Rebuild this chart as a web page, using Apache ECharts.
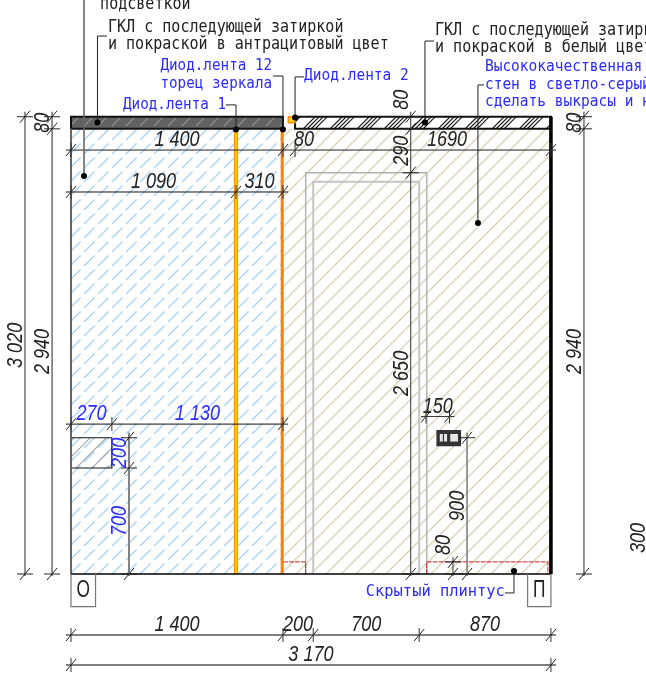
<!DOCTYPE html>
<html><head><meta charset="utf-8">
<style>html,body{margin:0;padding:0;background:#fff;overflow:hidden}#c{width:646px;height:675px}</style>
<script src="https://cdn.jsdelivr.net/npm/echarts@6/dist/echarts.min.js"></script>
</head><body><div id="c"></div>
<script>
// All drawing values in millimetres of the wall elevation
const zoneMirror=[0,1400,0,2940];
const zoneWall=[1400,3170,0,2940];
const bandDark=[0,1400,2940,3020];
const bandWhite=[1480,3170,2940,3020];
const niche=[0,270,700,900];
const socketBody=[2420,2570,850,945];
const socketCells=[[2436,2456],[2464,2484],[2505,2556]];
const socketCellY=[875,925];
const ledCorner=[1435,1480,2980,3020];
const stripOne=1090, stripTwo=1395;
const doorOuter=[[1550,0],[1550,2650],[2350,2650],[2350,0]];
const doorInner=[[1600,0],[1600,2590],[2300,2590],[2300,0]];
const plinthLeft=[[1400,80],[1550,80],[1550,0]];
const plinthRight=[[2350,0],[2350,80],[3150,80],[3150,0]];
const wallLeft=[[0,0],[0,2940]];
const wallRight=[[3170,0],[3170,3020]];
const floorLine=[[0,0],[3170,0]];
const boxO=[[0,0],[0,-216],[162,-216],[162,0]];
const boxP=[[3016,0],[3016,-216],[3170,-216],[3170,0]];

const dimTopY=2800, dimTopStops=[0,1400,1480,3170], dimTopLabels=['1 400','80','1690'], dimTopShift=[0,15,24];
const dimMidY=2523, dimMidStops=[0,1090,1400], dimMidLabels=['1 090','310'];
const dimNicheY=990, dimNicheStops=[0,270,1400], dimNicheLabels=['270','1 130'];
const dimSockY=1040, dimSockStops=[2345,2500], dimSockLabels=['150'];
const dimBotY=-403, dimBotStops=[0,1400,1600,2300,3170], dimBotLabels=['1 400','200','700','870'];
const dimAllY=-601, dimAllStops=[0,3170], dimAllLabels=['3 170'];

const colA=-304, colAStops=[0,3020], colALabels=['3 020'];
const colB=-125, colBStops=[0,2940,3020], colBLabels=['2 940','80'];
const colC=3388, colCStops=[0,2940,3020], colCLabels=['2 940','80'];
const colDoor=2244, colDoorStops=[0,2650,2940,3020], colDoorLabels=['2 650','290','80'], colDoorShift=[0,0,-23];
const colNiche=383, colNicheStops=[0,700,900], colNicheLabels=['700','200'];
const colSock=2616, colSockStops=[0,900], colSockLabels=['900'];
const colPl=2523, colPlStops=[0,80], colPlLabels=['80'], colPlShift=[-23];

const leaders=[
 [[86,2628],[86,3900]],
 [[175,2982],[175,3553],[238,3553]],
 [[1400,2936],[1400,3289],[1334,3289]],
 [[1090,2936],[1090,3098],[1024,3098]],
 [[1480,3015],[1480,3283],[1539,3283]],
 [[2338,2982],[2338,3520],[2398,3520]],
 [[2688,2318],[2688,3230],[2728,3230]],
 [[2926,20],[2926,-125],[2866,-125]]
];
const notesBlack=[['подсветкой',192,3758],['ГКЛ с последующей затиркой',244,3606],['и покраской в антрацитовый цвет',244,3494],['ГКЛ с последующей затиркой',2404,3586],['и покраской в белый цвет',2404,3474]];
const notesBlueLeft=[['Диод.лента 2',1539,3289],['Высококачественная',2734,3349],['стен в светло-серый цвет',2734,3230],['сделать выкрасы и ниши',2734,3118]];
const notesBlueRight=[['Диод.лента 12',1328,3355],['торец зеркала',1328,3236],['Диод.лента 1',1024,3098]];
const noteHidden=['Скрытый плинтус',2866,-119];
const cutDim=['300',3755,238];
const letterO=['О',81,-105], letterP=['П',3093,-105];

// ---------- hatch tiles (styling only)
function tile(w,h,draw){const c=document.createElement('canvas');c.width=w;c.height=h;const x=c.getContext('2d');draw(x);return {image:c,repeat:'repeat'};}
function solid(period,color,lw,base){return tile(period,period,x=>{if(base){x.fillStyle=base;x.fillRect(0,0,period,period);}x.strokeStyle=color;x.lineWidth=lw;
  [[-period,period,0,0],[0,period,period,0],[period,period,2*period,0]].forEach(l=>{x.beginPath();x.moveTo(l[0],l[1]);x.lineTo(l[2],l[3]);x.stroke();});});}
function dashed(period,color,lw,dash,gap,base){const p=period*2;return tile(p,p,x=>{if(base){x.fillStyle=base;x.fillRect(0,0,p,p);}x.strokeStyle=color;x.lineWidth=lw;x.setLineDash([dash,gap]);
  [[0,p,p,0],[-period,p,period,0],[period,p,period+p,0]].forEach(l=>{x.beginPath();x.moveTo(l[0],l[1]);x.lineTo(l[2],l[3]);x.stroke();});});}
function groups(period,color,lw,offs){return tile(period,period,x=>{x.strokeStyle=color;x.lineWidth=lw;
  offs.forEach(o=>{[-period,0,period].forEach(s=>{x.beginPath();x.moveTo(s+o,period);x.lineTo(s+o+period,0);x.stroke();});});});}
const hatchBlue=dashed(14,'#acd4f6',1.4,15,4.8);
const hatchBeige=solid(15,'#dcd4b8',1.4);
const hatchDark=dashed(14,'#909090',1.2,15,4.8,'#626262');
const hatchBand=groups(27,'#111',1.2,[0,4,8,12]);
const hatchNiche=solid(16,'#a8a8a8',1.2);

// ---------- primitive list
const P=[];
const rect=(r,fill,stroke,lw)=>P.push({k:'rect',r,fill,stroke,lw});
const poly=(pts,stroke,lw,dash)=>P.push({k:'poly',pts,stroke,lw,dash});
const dot=(p)=>P.push({k:'dot',p});
const text=(s,x,y,font,sx,color,align,dx,dy,rot)=>P.push({k:'text',s,x,y,font,sx,color,align,dx:dx||0,dy:dy||0,rot:rot||0});
const MONO='17px "DejaVu Sans Mono"', BLUEF='16.4px "DejaVu Sans Mono"', DIM='italic 21.5px "Liberation Sans"';
const MONO_SX=0.885, BLUE_SX=0.87, HIDDEN_SX=0.94, DIM_SX=0.84, LET_SX=0.72;
const BLUE='#2b2bff', INK='#222';

rect(zoneMirror,hatchBlue);
rect(zoneWall,hatchBeige);
rect(niche,hatchNiche,'#111',1.2);
poly(doorOuter,'#b0b0b0',1.4);
poly(doorInner,'#c4c4c4',2);
poly(plinthLeft,'#c62222',1,[5,1]);
poly(plinthRight,'#c62222',1,[5,1]);
poly([[stripOne,0],[stripOne,2940]],'#ff9000',4.2);
poly([[stripOne,0],[stripOne,2940]],'#ffcc00',2.2);
poly([[stripTwo,0],[stripTwo,2940]],'#ff8000',3);
rect(bandDark,hatchDark,'#111',2);
rect(bandWhite,hatchBand,'#111',2);
rect(ledCorner,'#ffd21e','#ff8c00',1.4);
poly(wallLeft,'#666',2);
poly(wallRight,'#000',3.6);
poly(floorLine,'#000',1.3);
poly(boxO,'#777',1.2);
poly(boxP,'#777',1.2);
rect(socketBody,'#333','#333',2);
socketCells.forEach(c=>rect([c[0],c[1],socketCellY[0],socketCellY[1]],'#e8e8e8'));

function hDim(y,stops,labels,color,lw,tc,shift){
  P.push({k:'hdim',y,stops,stroke:color,lw});
  labels.forEach((t,i)=>text(t,(stops[i]+stops[i+1])/2,y,DIM,DIM_SX,tc,'center',shift?shift[i]:0,-10));
}
function vDim(x,stops,labels,color,lw,tc,shift){
  P.push({k:'vdim',x,stops,stroke:color,lw});
  labels.forEach((t,i)=>text(t,x,(stops[i]+stops[i+1])/2,DIM,DIM_SX,tc,'center',-9,shift?shift[i]:0,Math.PI/2));
}
hDim(dimTopY,dimTopStops,dimTopLabels,'#222',1,INK,dimTopShift);
hDim(dimMidY,dimMidStops,dimMidLabels,'#111',1,INK);
hDim(dimNicheY,dimNicheStops,dimNicheLabels,'#111',1,BLUE);
hDim(dimSockY,dimSockStops,dimSockLabels,'#333',1,INK);
hDim(dimBotY,dimBotStops,dimBotLabels,'#555',1.5,INK);
hDim(dimAllY,dimAllStops,dimAllLabels,'#555',1.5,INK);
vDim(colA,colAStops,colALabels,'#777',1.6,INK);
vDim(colB,colBStops,colBLabels,'#777',1.6,INK);
vDim(colC,colCStops,colCLabels,'#777',1.6,INK);
vDim(colDoor,colDoorStops,colDoorLabels,'#333',1,INK,colDoorShift);
vDim(colNiche,colNicheStops,colNicheLabels,'#777',1.8,BLUE);
vDim(colSock,colSockStops,colSockLabels,'#777',1.5,INK);
vDim(colPl,colPlStops,colPlLabels,'#333',1,INK,colPlShift);

leaders.forEach((l,i)=>{poly(l,i===0?'#666':'#222',i===0?1.6:1);dot(l[0]);});
notesBlack.forEach(n=>text(n[0],n[1],n[2],MONO,MONO_SX,'#222','left'));
notesBlueLeft.forEach(n=>text(n[0],n[1],n[2],BLUEF,0.885,BLUE,'left'));
notesBlueRight.forEach(n=>text(n[0],n[1],n[2],BLUEF,BLUE_SX,BLUE,'right'));
text(noteHidden[0],noteHidden[1],noteHidden[2],BLUEF,HIDDEN_SX,BLUE,'right');
text(cutDim[0],cutDim[1],cutDim[2],DIM,DIM_SX,INK,'center',0,0,Math.PI/2);
text(letterO[0],letterO[1],letterO[2],'24px "Liberation Sans"',LET_SX,'#222','center');
text(letterP[0],letterP[1],letterP[2],'24px "Liberation Sans"',LET_SX,'#222','center');

// ---------- rendering through the value axes
function lineEl(a,b,stroke,lw,dash){return {type:'line',shape:{x1:a[0],y1:a[1],x2:b[0],y2:b[1]},style:{stroke,lineWidth:lw,lineDash:dash}};}
function tick(c,vertical){
  return [lineEl([c[0]-5,c[1]+6],[c[0]+5,c[1]-6],'#222',1),
    vertical?lineEl([c[0]-8,c[1]],[c[0]+8,c[1]],'#222',1):lineEl([c[0],c[1]-7],[c[0],c[1]+7],'#333',1)];
}
function renderItem(params,api){
  const m=P[params.dataIndex], C=p=>api.coord(p);
  if(m.k==='rect'){const a=C([m.r[0],m.r[3]]),b=C([m.r[1],m.r[2]]);
    return {type:'rect',shape:{x:a[0],y:a[1],width:b[0]-a[0],height:b[1]-a[1]},style:{fill:m.fill,stroke:m.stroke||null,lineWidth:m.lw||0}};}
  if(m.k==='poly')return {type:'polyline',shape:{points:m.pts.map(C)},style:{fill:null,stroke:m.stroke,lineWidth:m.lw,lineDash:m.dash}};
  if(m.k==='dot'){const c=C(m.p);return {type:'circle',shape:{cx:c[0],cy:c[1],r:3},style:{fill:'#000'}};}
  if(m.k==='text'){const c=C([m.x,m.y]);
    return {type:'text',x:c[0]+m.dx,y:c[1]+m.dy,rotation:m.rot,scaleX:m.sx,style:{text:m.s,x:0,y:0,font:m.font,fill:m.color,align:m.align,verticalAlign:'middle'}};}
  if(m.k==='hdim'){const a=C([m.stops[0],m.y]),b=C([m.stops[m.stops.length-1],m.y]);
    const kids=[lineEl([a[0]-5,a[1]],[b[0]+5,a[1]],m.stroke,m.lw)];
    m.stops.forEach(s=>kids.push(...tick(C([s,m.y]),false)));
    return {type:'group',children:kids};}
  if(m.k==='vdim'){const a=C([m.x,m.stops[0]]),b=C([m.x,m.stops[m.stops.length-1]]);
    const kids=[lineEl([a[0],a[1]+2],[a[0],b[1]-5],m.stroke,m.lw)];
    m.stops.forEach(s=>kids.push(...tick(C([m.x,s]),true)));
    return {type:'group',children:kids};}
}
const chart=echarts.init(document.getElementById('c'),null,{renderer:'canvas'});
chart.setOption({animation:false,backgroundColor:'#fff',
  grid:{left:0,right:0,top:0,bottom:0},
  xAxis:{type:'value',min:-469,max:3798,show:false},
  yAxis:{type:'value',min:-667,max:3791,show:false},
  series:[{type:'custom',coordinateSystem:'cartesian2d',clip:false,silent:true,renderItem,data:P.map((_,i)=>[i])}]
});
</script></body></html>
